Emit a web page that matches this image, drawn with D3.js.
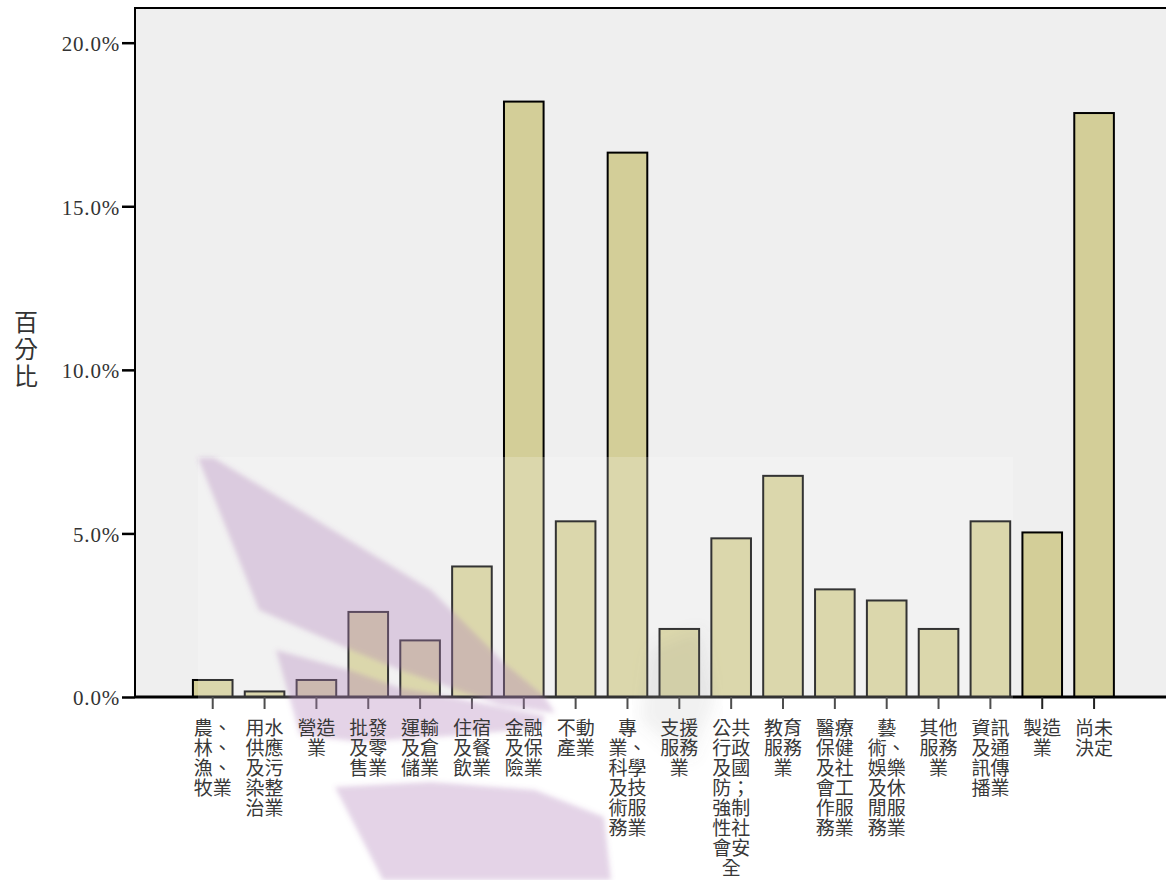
<!DOCTYPE html>
<html>
<head>
<meta charset="utf-8">
<script src="https://cdn.jsdelivr.net/npm/d3@7"></script>
<style>
  html, body { margin: 0; padding: 0; background: #ffffff; }
  svg { display: block; }
</style>
</head>
<body>
<svg id="chart" width="1166" height="880"></svg>
<script>
// ---- data ----
const categories = [
  "農、\n林、\n漁、\n牧業",
  "用水\n供應\n及污\n染整\n治業",
  "營造\n業",
  "批發\n及零\n售業",
  "運輸\n及倉\n儲業",
  "住宿\n及餐\n飲業",
  "金融\n及保\n險業",
  "不動\n產業",
  "專\n業、\n科學\n及技\n術服\n務業",
  "支援\n服務\n業",
  "公共\n行政\n及國\n防；\n強制\n性社\n會安\n全",
  "教育\n服務\n業",
  "醫療\n保健\n及社\n會工\n作服\n務業",
  "藝\n術、\n娛樂\n及休\n閒服\n務業",
  "其他\n服務\n業",
  "資訊\n及通\n訊傳\n播業",
  "製造\n業",
  "尚未\n決定"
];
const percentValues = [0.52, 0.17, 0.52, 2.60, 1.73, 3.99, 18.20, 5.37, 16.64,
                       2.08, 4.85, 6.76, 3.29, 2.95, 2.08, 5.37, 5.03, 17.85];
const yTickValues = [0, 5, 10, 15, 20];
const yAxisTitle = ["百", "分", "比"];

// ---- layout ----
const svg = d3.select("#chart");
const plotLeft = 135, plotTop = 8, plotBottom = 697, plotRight = 1166;

const y = d3.scaleLinear().domain([0, 20]).range([plotBottom, 42.7]);
const x = d3.scaleBand().domain(categories).range([186.8, 1120])
  .paddingInner(0.236).paddingOuter(0.118);

// plot background + frame
svg.append("rect")
  .attr("x", plotLeft).attr("y", plotTop)
  .attr("width", plotRight - plotLeft + 20).attr("height", plotBottom - plotTop)
  .attr("fill", "#efefef").attr("stroke", "#000").attr("stroke-width", 2);

// bars
svg.append("g").selectAll("rect").data(percentValues).join("rect")
  .attr("x", (d, i) => x(categories[i]))
  .attr("y", d => y(d))
  .attr("width", x.bandwidth())
  .attr("height", d => plotBottom - y(d))
  .attr("fill", "#d3ce98")
  .attr("stroke", "#000")
  .attr("stroke-width", 2);

// y axis
const yAxis = svg.append("g").attr("transform", `translate(${plotLeft},0)`)
  .call(d3.axisLeft(y).tickValues(yTickValues).tickSize(13).tickPadding(2)
    .tickFormat(d => d.toFixed(1) + "%"));
yAxis.select(".domain").remove();
yAxis.selectAll(".tick line").attr("stroke", "#000").attr("stroke-width", 2.5);
yAxis.selectAll(".tick text")
  .attr("font-family", "'Liberation Serif', serif")
  .attr("font-size", 21)
  .attr("letter-spacing", "0.8px")
  .attr("fill", "#333")
  .attr("dy", "0.38em");

// x axis
svg.append("line")
  .attr("x1", plotLeft).attr("x2", plotRight + 10)
  .attr("y1", plotBottom).attr("y2", plotBottom)
  .attr("stroke", "#000").attr("stroke-width", 3);

const xAxis = svg.append("g").attr("transform", `translate(0,${plotBottom})`)
  .call(d3.axisBottom(x).tickSize(12).tickFormat(""));
xAxis.select(".domain").remove();
xAxis.selectAll(".tick line").attr("stroke", "#222").attr("stroke-width", 2);

// ---- faint watermark (over the plot, under the texts) ----
const defs = svg.append("defs");
defs.append("filter").attr("id", "blur")
  .append("feGaussianBlur").attr("stdDeviation", 2.5);
defs.append("filter").attr("id", "blur2")
  .append("feGaussianBlur").attr("stdDeviation", 8);

const wm = svg.append("g").attr("filter", "url(#blur)");
const shapeA = [[198,458],[214,458],[300,510],[431,590],[504,663],[545,697],[555,713],[500,705],[452,688],[400,670],[349,649],[259,610]];
const shapeB = [[276,650],[349,670],[400,688],[452,697],[545,716],[540,728],[450,736],[360,742],[300,735]];
const shapeC = [[335,787],[431,782],[535,790],[604,817],[611,880],[383,880]];
[shapeA, shapeB, shapeC].forEach(s => {
  wm.append("path")
    .attr("d", d3.line().curve(d3.curveLinearClosed)(s))
    .attr("fill", "#9b5aa8")
    .attr("fill-opacity", 0.33);
});
svg.append("path")
  .attr("d", d3.line().curve(d3.curveLinearClosed)([[650,650],[700,630],[715,700],[690,760],[640,720]]))
  .attr("fill", "#777").attr("fill-opacity", 0.12).attr("filter", "url(#blur2)");
svg.append("rect")
  .attr("x", 198).attr("y", 457).attr("width", 815).attr("height", 423)
  .attr("fill", "#ffffff").attr("fill-opacity", 0.2);

// category labels (one text per line)
const labels = svg.append("g")
  .attr("font-family", "'Noto Sans CJK TC', sans-serif")
  .attr("font-size", 19)
  .attr("fill", "#383838")
  .attr("text-anchor", "middle");
categories.forEach(c => {
  const cx = x(c) + x.bandwidth() / 2;
  c.split("\n").forEach((line, j) => {
    labels.append("text").attr("x", cx).attr("y", 735 + j * 20).text(line);
  });
});

// y axis title (vertical, one char per line)
const yt = svg.append("g")
  .attr("font-family", "'Noto Sans CJK TC', sans-serif")
  .attr("font-size", 24)
  .attr("fill", "#333")
  .attr("text-anchor", "middle");
yAxisTitle.forEach((ch, i) => {
  yt.append("text").attr("x", 26).attr("y", 331 + i * 27).text(ch);
});
</script>
</body>
</html>
